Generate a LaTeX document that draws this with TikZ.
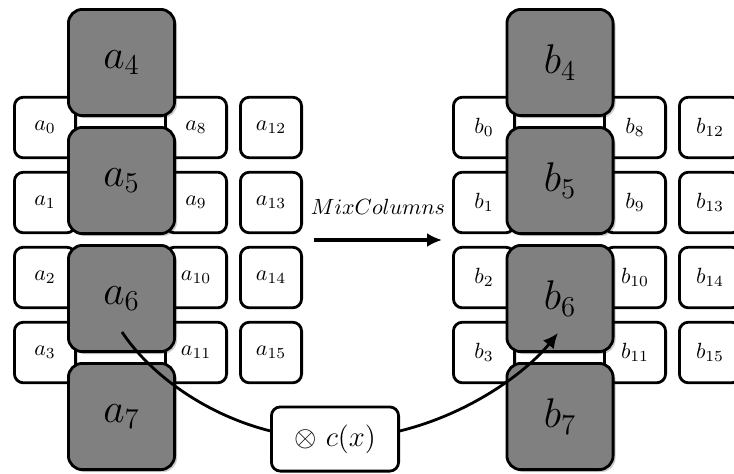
\RequirePackage{fix-cm}
\documentclass[tikz,border=0pt]{standalone}
\usetikzlibrary{arrows.meta,shadows}

\tikzset{
  smalltext/.style={font=\fontsize{11}{13}\selectfont},
  cell/.style={draw, line width=1.4pt, fill=white, rounded corners=4.5pt,
    minimum width=30.6pt, minimum height=30.3pt, inner sep=0pt, smalltext},
  bigcell/.style={draw, line width=1.4pt, fill=gray, rounded corners=7pt,
    minimum size=53.1pt, inner sep=0pt, font=\huge,
    drop shadow={shadow xshift=1.2pt, shadow yshift=-1.2pt, fill=black, opacity=0.2}},
  opbox/.style={draw, line width=1.4pt, fill=white, rounded corners=4.5pt,
    minimum width=63.6pt, minimum height=32.1pt, inner sep=0pt, font=\Large},
  flow/.style={line width=1.6pt, -{Latex[length=7.5pt,width=7pt]}},
}

\begin{document}
\begin{tikzpicture}[x=0.5pt, y=-0.5pt]
  \useasboundingbox (0,0) rectangle (734,473);
  \clip (0,0) rectangle (734,473);

  % state before: small cells of columns 0, 2 and 3
  \foreach \c/\x in {0/45, 2/196, 3/271} {
    \foreach \r/\y in {0/127.5, 1/202.5, 2/277.5, 3/352.5} {
      \pgfmathtruncatemacro\k{4*\c+\r}
      \node[cell] (a\k) at (\x,\y) {$a_{\k}$};
    }
  }
  % state after
  \foreach \c/\x in {0/484, 2/635, 3/710} {
    \foreach \r/\y in {0/127.5, 1/202.5, 2/277.5, 3/352.5} {
      \pgfmathtruncatemacro\k{4*\c+\r}
      \node[cell] (b\k) at (\x,\y) {$b_{\k}$};
    }
  }

  % highlighted column 1, enlarged
  \foreach \r/\y in {0/62.5, 1/180.5, 2/298.5, 3/416.5} {
    \pgfmathtruncatemacro\k{4+\r}
    \node[bigcell] (a\k) at (121.5,\y) {$a_{\k}$};
    \node[bigcell] (b\k) at (560,\y) {$b_{\k}$};
  }

  % MixColumns step
  \coordinate (mixA) at (314,240);
  \coordinate (mixB) at (442,240);
  \draw[flow] (mixA) -- (mixB);
  \node[smalltext] (mixlabel) at (378,207) {$MixColumns$};

  % multiplication of one byte by c(x)
  \coordinate (a6s) at ([xshift=0.25pt, yshift=-16.75pt]a6.center);
  \coordinate (b6s) at ([xshift=-1pt, yshift=-17.25pt]b6.center);
  \coordinate (mid) at (335,439);
  \draw[flow, line width=1.4pt] (a6s) .. controls +(33,50) and +(-100,0) .. (mid)
    .. controls +(100,0) and +(-38,47) .. (b6s);
  \node[opbox] (cx) at (mid) {$\otimes$ $c(x)$};
\end{tikzpicture}
\end{document}
